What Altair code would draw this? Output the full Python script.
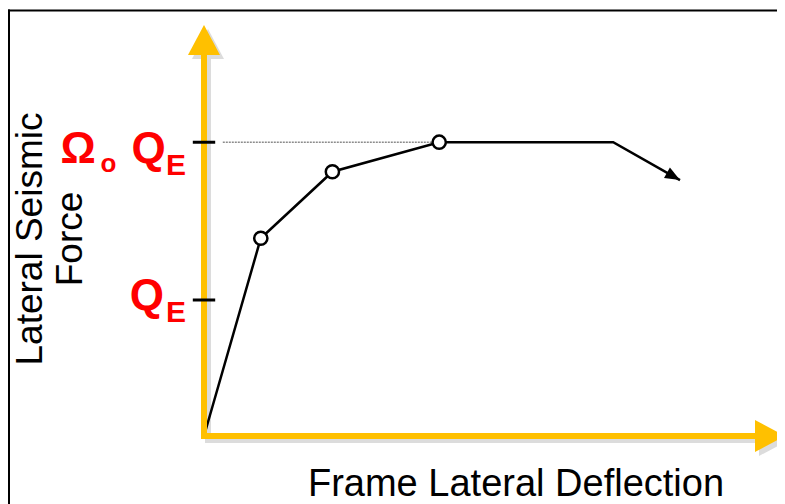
import math
import altair as alt
import pandas as pd

# ---- data (deflection in arbitrary units, force in units of Q_E) ----
deflection = [0.0, 1.42, 3.21, 5.88, 10.23, 11.9]
force = [0.0, 1.454, 1.943, 2.16, 2.16, 1.882]
hinge_idx = [1, 2, 3]
qe = 1.0
omega_qe = 2.16
tick_levels = [qe, omega_qe]
dotted_start = 0.47

x_tip, x_base = 14.525, 13.8     # horizontal (deflection) axis arrow
y_tip, y_base = 3.022, 2.80      # vertical (force) axis arrow

W, H = 769, 496
X_DOMAIN = [-4.9, (W - 196) / 40]
Y_DOMAIN = [-(H + 8 - 436) / 136, 3.147]

YELLOW = "#FFC000"
SHADOW = "#DCDCDC"
RED = "#FF0000"
FONT = "Liberation Sans"

xscale = alt.Scale(domain=X_DOMAIN, nice=False, zero=False)
yscale = alt.Scale(domain=Y_DOMAIN, nice=False, zero=False)
xaxis = alt.Axis(domain=False, ticks=False, labels=False, grid=False,
                 title="Frame Lateral Deflection", titleFont=FONT, titleFontSize=38,
                 titleFontWeight="normal", titleColor="black", titleX=507.5, titleY=-8.5,
                 titleAlign="center", titleBaseline="alphabetic")
yaxis = alt.Axis(domain=False, ticks=False, labels=False, grid=False,
                 title=["Lateral Seismic", "Force"], titleFont=FONT, titleFontSize=37,
                 titleFontWeight="normal", titleColor="black", titleAngle=270,
                 titleX=33, titleY=230.5, titleAlign="center", titleBaseline="alphabetic",
                 titleLineHeight=40)


def X(f):
    return alt.X(f, type="quantitative", scale=xscale, axis=xaxis)


def Y(f):
    return alt.Y(f, type="quantitative", scale=yscale, axis=yaxis)


curve = pd.DataFrame({"d": deflection, "f": force, "o": list(range(len(force)))})
hinges = curve.iloc[hinge_idx]
end_pt = curve.iloc[[-1]]

axes_df = pd.DataFrame({"x": [0.0, 0.0], "y": [0.0, 0.0], "x2": [0.0, x_base], "y2": [y_base, 0.0]})
vtip = pd.DataFrame({"x": [0.0], "y": [y_tip]})
htip = pd.DataFrame({"x": [x_tip], "y": [0.0]})
ticks_df = pd.DataFrame({"x": [-0.28] * 2, "x2": [0.28] * 2, "y": tick_levels})
dotted_df = pd.DataFrame({"x": [dotted_start], "x2": [deflection[3]], "y": [omega_qe]})

UP = "M0,0L-1.067,2L1.067,2Z"
RIGHT = "M0,0L-2,-1.067L-2,1.067Z"
HEAD = "M0,0L-2,-0.8L-2,0.8Z"

px_x = W / (X_DOMAIN[1] - X_DOMAIN[0])
px_y = H / (Y_DOMAIN[1] - Y_DOMAIN[0])
ang = math.degrees(math.atan2((force[-2] - force[-1]) * px_y, (deflection[-1] - deflection[-2]) * px_x))

layers = []

# frame (left and top edges)
frame = alt.Chart(pd.DataFrame({"a": [0]}))
layers.append(frame.mark_rule(color="black", strokeWidth=2).encode(
    x=alt.value(1), y=alt.value(1.5), y2=alt.value(H)))
layers.append(frame.mark_rule(color="black", strokeWidth=2).encode(
    x=alt.value(0), x2=alt.value(W), y=alt.value(2.5)))

for off_color, extra in [(SHADOW, dict(xOffset=4, x2Offset=4, yOffset=4, y2Offset=4)), (YELLOW, {})]:
    layers.append(alt.Chart(axes_df).mark_rule(color=off_color, strokeWidth=6, strokeCap="square", **extra).encode(
        x=X("x"), y=Y("y"), x2="x2", y2="y2"))
    pe = {k: v for k, v in extra.items() if k in ("xOffset", "yOffset")}
    layers.append(alt.Chart(vtip).mark_point(shape=UP, size=900, filled=True, color=off_color,
                                             opacity=1, strokeWidth=0, **pe).encode(x=X("x"), y=Y("y")))
    layers.append(alt.Chart(htip).mark_point(shape=RIGHT, size=900, filled=True, color=off_color,
                                             opacity=1, strokeWidth=0, **pe).encode(x=X("x"), y=Y("y")))
    if off_color == SHADOW:
        layers.append(alt.Chart(curve).mark_line(color="black", strokeWidth=2.5).encode(
            x=X("d"), y=Y("f"), order="o"))

# dotted reference line
layers.append(alt.Chart(dotted_df).mark_rule(color="#8C8C8C", strokeWidth=1.5, strokeDash=[2, 1]).encode(
    x=X("x"), x2="x2", y=Y("y")))

# ticks on force axis
layers.append(alt.Chart(ticks_df).mark_rule(color="black", strokeWidth=3).encode(
    x=X("x"), x2="x2", y=Y("y")))

# hinge circles
layers.append(alt.Chart(hinges).mark_point(shape="circle", size=175, fill="white", stroke="black",
                                           strokeWidth=2.5, opacity=1, fillOpacity=1).encode(
    x=X("d"), y=Y("f")))

# arrow head at end of curve
layers.append(alt.Chart(end_pt).mark_point(shape=HEAD, size=225, filled=True, color="black",
                                           opacity=1, strokeWidth=0, angle=ang).encode(
    x=X("d"), y=Y("f")))

# red labels: (text, level, dx, dy, size)
pieces = [
    ("Ω", omega_qe, -143.5, 20.5, 44),
    ("o", omega_qe, -103.5, 29.5, 26),
    ("Q", omega_qe, -72.6, 21, 44),
    ("E", omega_qe, -38, 33, 30),
    ("Q", qe, -74.2, 10, 44),
    ("E", qe, -38, 21.7, 30),
]
for txt, lvl, dx, dy, fs in pieces:
    layers.append(alt.Chart(pd.DataFrame({"x": [0.0], "y": [lvl], "t": [txt]})).mark_text(
        font=FONT, fontWeight="bold", fontSize=fs, color=RED, align="left", baseline="alphabetic",
        dx=dx, dy=dy).encode(x=X("x"), y=Y("y"), text="t:N"))

chart = alt.layer(*layers).properties(
    width=W, height=H, padding=0, autosize=alt.AutoSizeParams(type="none"),
    background="white"
).configure_view(stroke=None)

chart.save("out.html", embed_options={"renderer": "svg", "actions": False})
